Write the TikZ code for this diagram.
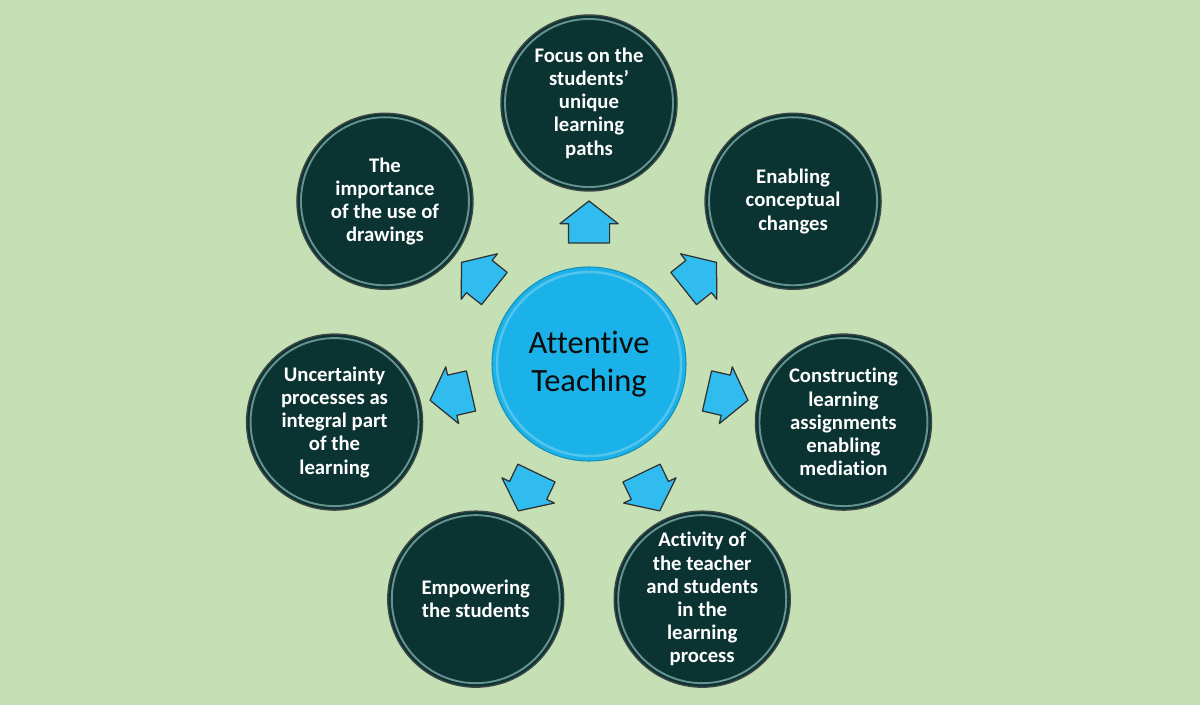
\documentclass[tikz,border=0pt]{standalone}
\usepackage{fontspec}
\setmainfont{Carlito}[Ligatures=NoCommon]
\usetikzlibrary{shapes.arrows,calc}
\definecolor{paperGreen}{RGB}{197, 224, 180}
\definecolor{bubbleDark}{RGB}{11, 51, 49}
\definecolor{rimGray}{RGB}{60, 70, 70}
\definecolor{rimLight}{RGB}{140, 185, 182}
\definecolor{hubCyan}{RGB}{26, 178, 232}
\definecolor{arrowCyan}{RGB}{48, 188, 238}
\definecolor{inkBlack}{RGB}{12, 12, 12}

\tikzset{
  topic/.style={circle, draw=rimGray, fill=bubbleDark, line width=0.8pt, minimum size=3.52cm, inner sep=0pt,
    align=center, text=white, font=\fontsize{11.8pt}{13.2pt}\selectfont\bfseries},
  hub/.style={circle, draw=hubCyan!80!black, fill=hubCyan, line width=0.6pt, minimum size=3.88cm, inner sep=0pt,
    align=center, text=inkBlack, font=\fontsize{18.5pt}{22pt}\selectfont},
  pointer/.style={single arrow, draw=inkBlack!85, fill=arrowCyan, line width=0.7pt, line join=round,
    minimum height=0.84cm, minimum width=1.14cm, single arrow head extend=0.17cm,
    single arrow tip angle=104, inner xsep=0pt, inner ysep=0.4cm}
}

\begin{document}
\begin{tikzpicture}
  \fill[paperGreen] (0,0) rectangle (24,14.1);
  \useasboundingbox (0,0) rectangle (24,14.1);
  \coordinate (mid) at (11.78,6.82);

  \node[hub] (hub) at (mid) {Attentive\\Teaching};
  \draw[white, opacity=0.25, line width=1.4pt] (hub.center) circle (1.84cm);

  % seven topics round the hub, each with its pointer
  \foreach \i/\ang/\txt in {
      1/90/{Focus on the\\students’\\unique\\learning\\paths},
      2/38.57/{Enabling\\conceptual\\changes},
      3/-12.86/{Constructing\\learning\\assignments\\enabling\\mediation},
      4/-64.29/{Activity of\\the teacher\\and students\\in the\\learning\\process},
      5/-115.71/{Empowering\\the students},
      6/-167.14/{Uncertainty\\processes as\\integral part\\of the\\learning},
      7/141.43/{The\\importance\\of the use of\\drawings}} {
    \node[topic] (topic\i) at ($(mid)+(\ang:5.22)$) {\txt};
    \draw[rimLight, opacity=0.7, line width=1.1pt] (topic\i.center) circle (1.68cm);
    \node[pointer, rotate=\ang] (pointer\i) at ($(mid)+(\ang:2.68)$) {};
  }
\end{tikzpicture}
\end{document}
